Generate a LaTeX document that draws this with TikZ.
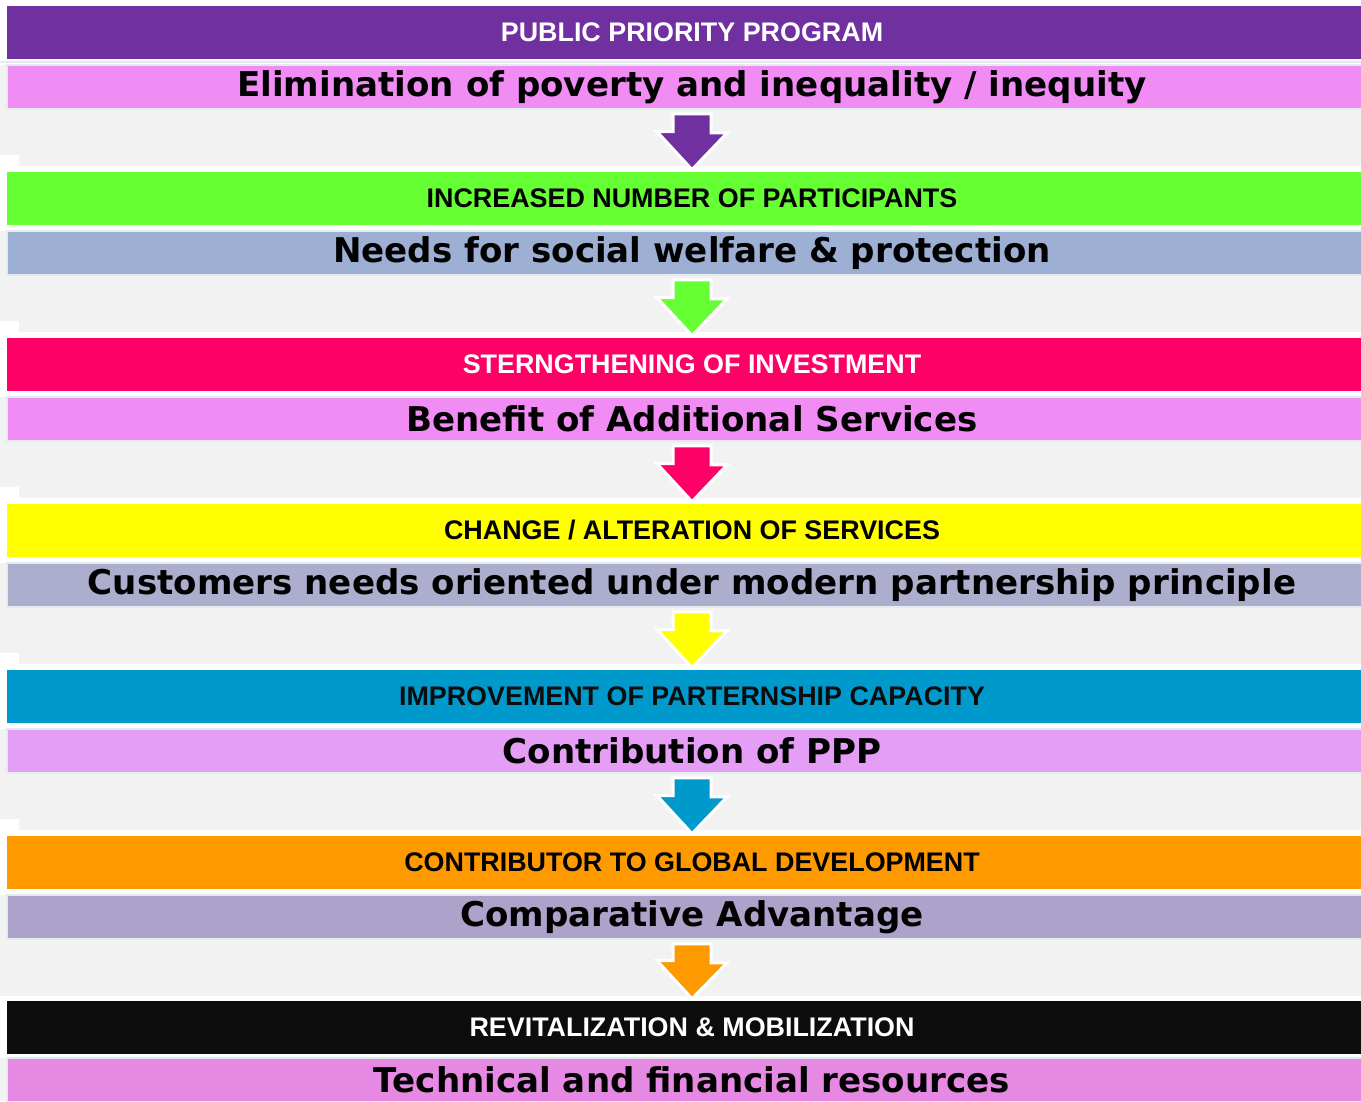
\documentclass[tikz,border=0pt]{standalone}
\usepackage{fontspec}
\setmainfont{Liberation Sans}
\newfontfamily\subfont{DejaVu Sans}
\usetikzlibrary{calc}

\definecolor{cpurple}{HTML}{7030A0}
\definecolor{cgreen}{HTML}{66FF33}
\definecolor{cred}{HTML}{FF0066}
\definecolor{cyellow}{HTML}{FFFF00}
\definecolor{cblue}{HTML}{0099CC}
\definecolor{corange}{HTML}{FF9900}
\definecolor{cblack}{HTML}{0D0D0D}
\definecolor{spink}{HTML}{F08CF4}
\definecolor{ssteel}{HTML}{9DAFD3}
\definecolor{slilac}{HTML}{ADADCD}
\definecolor{sviolet}{HTML}{E59EF5}
\definecolor{sgrey}{HTML}{ADA2CA}
\definecolor{sorchid}{HTML}{E589E3}
\definecolor{bggrey}{HTML}{F2F2F2}
\definecolor{rim}{HTML}{E2ECEF}

\begin{document}
\begin{tikzpicture}[x=0.02cm, y=-0.02cm]
\tikzstyle{head}=[shape=rectangle, inner sep=0pt, minimum width=27.4cm, minimum height=1.06cm, font=\fontsize{15.3}{17}\selectfont\bfseries];
\tikzstyle{sub}=[shape=rectangle, inner sep=0pt, draw=rim, line width=1.1pt, minimum width=27.4cm, minimum height=0.88cm, font=\subfont\fontsize{19.4}{22}\selectfont\bfseries, text=black];
\tikzstyle{blk}=[draw=white, line width=1.7pt, line join=miter];
\useasboundingbox (0,0) rectangle (1361,1101);
\clip (0,0) rectangle (1361,1101);
% background
\fill[bggrey] (0,0) rectangle (1361,1101);
\fill[white] (0,0) rectangle (1361,65);
\fill[white] (0,155) rectangle (19,166) (0,166) rectangle (1361,231);
\fill[white] (0,321) rectangle (19,332) (0,332) rectangle (1361,397);
\fill[white] (0,487) rectangle (19,498) (0,498) rectangle (1361,563);
\fill[white] (0,653) rectangle (19,664) (0,664) rectangle (1361,729);
\fill[white] (0,819) rectangle (19,830) (0,830) rectangle (1361,895);
\fill[white] (0,996) rectangle (1361,1058);
\draw[rim, line width=1.1pt] (0,62) -- (1361,62);

% bars
\node[head, fill=cpurple, text=white] (h0) at (692, 32.5) {PUBLIC PRIORITY PROGRAM};
\node[sub, fill=spink] (s0) at (692, 87) {Elimination of poverty and inequality / inequity};
\node[head, fill=cgreen, text=black] (h1) at (692, 198.5) {INCREASED NUMBER OF PARTICIPANTS};
\node[sub, fill=ssteel] (s1) at (692, 253) {Needs for social welfare \& protection};
\node[head, fill=cred, text=white] (h2) at (692, 364.5) {STERNGTHENING OF INVESTMENT};
\node[sub, fill=spink] (s2) at (692, 419) {Benefit of Additional Services};
\node[head, fill=cyellow, text=black] (h3) at (692, 530.5) {CHANGE / ALTERATION OF SERVICES};
\node[sub, fill=slilac] (s3) at (692, 585) {Customers needs oriented under modern partnership principle};
\node[head, fill=cblue, text=cblack] (h4) at (692, 696.5) {IMPROVEMENT OF PARTERNSHIP CAPACITY};
\node[sub, fill=sviolet] (s4) at (692, 751) {Contribution of PPP};
\node[head, fill=corange, text=black] (h5) at (692, 862.5) {CONTRIBUTOR TO GLOBAL DEVELOPMENT};
\node[sub, fill=sgrey] (s5) at (692, 917) {Comparative Advantage};
\node[head, fill=cblack, text=white] (h6) at (692, 1027.5) {REVITALIZATION \& MOBILIZATION};
\node[sub, fill=sorchid] (s6) at (692, 1080) {Technical and financial resources};

% block arrows
\filldraw[blk, fill=cpurple] ($(s0.south)+(-19,4)$) -- ++(38,0) -- ++(0,19) -- ++(16,0) -- ($(h1.north)+(0,-2)$) -- ++(-35,-38) -- ++(16,0) -- cycle;
\filldraw[blk, fill=cgreen] ($(s1.south)+(-19,4)$) -- ++(38,0) -- ++(0,19) -- ++(16,0) -- ($(h2.north)+(0,-2)$) -- ++(-35,-38) -- ++(16,0) -- cycle;
\filldraw[blk, fill=cred] ($(s2.south)+(-19,4)$) -- ++(38,0) -- ++(0,19) -- ++(16,0) -- ($(h3.north)+(0,-2)$) -- ++(-35,-38) -- ++(16,0) -- cycle;
\filldraw[blk, fill=cyellow] ($(s3.south)+(-19,4)$) -- ++(38,0) -- ++(0,19) -- ++(16,0) -- ($(h4.north)+(0,-2)$) -- ++(-35,-38) -- ++(16,0) -- cycle;
\filldraw[blk, fill=cblue] ($(s4.south)+(-19,4)$) -- ++(38,0) -- ++(0,19) -- ++(16,0) -- ($(h5.north)+(0,-2)$) -- ++(-35,-38) -- ++(16,0) -- cycle;
\filldraw[blk, fill=corange] ($(s5.south)+(-19,4)$) -- ++(38,0) -- ++(0,19) -- ++(16,0) -- ($(h6.north)+(0,-2)$) -- ++(-35,-38) -- ++(16,0) -- cycle;
\end{tikzpicture}
\end{document}
